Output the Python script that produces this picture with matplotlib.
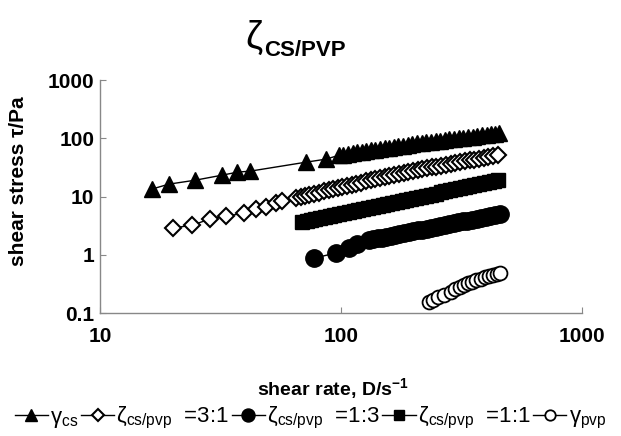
import matplotlib
matplotlib.use('Agg')
import matplotlib.pyplot as plt

plt.rcParams['font.family'] = ['Liberation Sans', 'DejaVu Sans']
plt.rcParams['mathtext.fontset'] = 'custom'
plt.rcParams['mathtext.rm'] = 'Liberation Sans'
plt.rcParams['mathtext.it'] = 'Liberation Sans:italic'
plt.rcParams['mathtext.bf'] = 'Liberation Sans:bold'

# gamma_cs (filled triangles)
x_cs = [16.4, 19.3, 24.9, 32.2, 37.2, 42.1, 71.7, 86.7,
        98, 102, 107, 112, 117, 122, 127, 133, 139, 145, 152, 159, 166, 173,
        181, 189, 198, 207, 216, 226, 236, 247, 258, 270, 282, 295, 308, 322,
        337, 352, 368, 385, 402, 420, 437, 452]
y_cs = [13.4, 16.3, 19.1, 23.3, 26.2, 27.3, 38.9, 43.8,
        51.0, 52.3, 53.9, 55.5, 57.0, 58.6, 60.1, 61.8, 63.6, 65.3, 67.2, 69.2,
        71.1, 72.9, 75.1, 77.1, 79.4, 81.7, 83.6, 85.5, 87.5, 89.5, 91.5, 93.7,
        95.8, 98.0, 100.2, 102.5, 104.9, 107.2, 109.7, 112.2, 114.7, 117.3,
        119.7, 121.8]

# zeta cs/pvp = 3:1 (open diamonds)
x_31 = [20.0, 24.2, 28.5, 33.5, 39.7, 44.5, 49.0, 53.9, 57.0,
        65, 68, 71, 74, 77, 81, 85, 89, 93, 97, 101, 106, 111, 116, 121, 127,
        133, 139, 145, 152, 159, 166, 174, 182, 190, 199, 208, 218, 228, 238,
        249, 261, 273, 285, 298, 312, 327, 342, 357, 374, 391, 409, 428, 448]
y_31 = [2.87, 3.23, 4.10, 4.61, 5.19, 6.08, 6.58, 7.71, 8.34,
        9.40, 9.83, 10.25, 10.68, 11.11, 11.67, 12.24, 12.81, 13.38, 13.94,
        14.51, 15.21, 15.92, 16.62, 17.33, 18.18, 19.02, 19.87, 20.71, 21.69,
        22.68, 23.68, 24.80, 25.74, 26.60, 27.55, 28.50, 29.53, 30.56, 31.58,
        32.69, 33.88, 35.06, 36.23, 37.47, 38.81, 40.22, 41.62, 43.02, 44.57,
        46.11, 47.72, 49.40, 51.14]

# zeta cs/pvp = 1:3 (filled circles)
x_13 = [77.3, 95.3, 108, 116.5,
        131, 136, 142, 148, 154, 161, 168, 175, 183, 191, 199, 208, 217, 227,
        237, 247, 258, 270, 282, 294, 307, 321, 335, 350, 366, 382, 399, 417,
        436, 456]
y_13 = [0.877, 1.07, 1.30, 1.53,
        1.79, 1.846, 1.912, 1.978, 2.044, 2.120, 2.195, 2.270, 2.355, 2.438,
        2.522, 2.615, 2.707, 2.809, 2.910, 3.011, 3.120, 3.238, 3.356, 3.473,
        3.598, 3.732, 3.865, 4.007, 4.157, 4.305, 4.461, 4.627, 4.799, 4.979]

# zeta cs/pvp = 1:1 (filled squares)
x_11 = [69, 72, 75, 78, 82, 86, 90, 94, 98, 103, 108, 113, 118, 124, 130, 136,
        142, 149, 156, 163, 171, 179, 187, 196, 205, 215, 225, 236, 247, 259,
        271, 284, 297, 311, 326, 341, 357, 374, 392, 410, 430, 450]
y_11 = [3.64, 3.78, 3.92, 4.06, 4.24, 4.42, 4.61, 4.79, 4.97, 5.19, 5.41, 5.63,
        5.85, 6.12, 6.38, 6.64, 6.89, 7.19, 7.49, 7.79, 8.13, 8.46, 8.80, 9.17,
        9.54, 9.95, 10.36, 10.81, 11.25, 11.74, 12.21, 12.73, 13.25, 13.80,
        14.38, 14.97, 15.59, 16.24, 16.93, 17.62, 18.38, 19.13]

# gamma_pvp (open circles)
x_pvp = [231, 242, 254, 268, 285, 298, 313, 325, 338, 351, 365, 381, 397, 413,
         429, 444, 458]
y_pvp = [0.155, 0.170, 0.188, 0.207, 0.229, 0.254, 0.279, 0.303, 0.327, 0.347,
         0.368, 0.391, 0.414, 0.432, 0.449, 0.467, 0.485]

labels = [r'$\mathrm{\gamma}_{\mathrm{cs}}$',
          r'$\mathrm{\zeta}_{\mathrm{cs/pvp}}$  =3:1',
          r'$\mathrm{\zeta}_{\mathrm{cs/pvp}}$  =1:3',
          r'$\mathrm{\zeta}_{\mathrm{cs/pvp}}$  =1:1',
          r'$\mathrm{\gamma}_{\mathrm{pvp}}$']

fig = plt.figure(figsize=(6.21, 4.36), dpi=100)
ax = fig.add_axes([0.161, 0.282, 0.776, 0.5345])

h1, = ax.plot(x_cs, y_cs, '-', color='black', lw=1, marker='^', ms=12,
              mfc='black', mec='black')
h2, = ax.plot(x_31, y_31, '-', color='black', lw=1, marker='D', ms=8,
              mfc='white', mec='black', mew=1.5)
h3, = ax.plot(x_13, y_13, '-', color='black', lw=1, marker='o', ms=12.5,
              mfc='black', mec='black')
h4, = ax.plot(x_11, y_11, '-', color='black', lw=1, marker='s', ms=10.5,
              mfc='black', mec='black')
h5, = ax.plot(x_pvp, y_pvp, '-', color='black', lw=1, marker='o', ms=10,
              mfc='white', mec='black', mew=1.3)

ax.set_xscale('log')
ax.set_yscale('log')
ax.set_xlim(10, 1000)
ax.set_ylim(0.1, 1000)
ax.set_xticks([10, 100, 1000])
ax.set_xticklabels(['10', '100', '1000'])
ax.set_yticks([0.1, 1, 10, 100, 1000])
ax.set_yticklabels(['0.1', '1', '10', '100', '1000'])
ax.minorticks_off()
for s in ['top', 'right']:
    ax.spines[s].set_visible(False)
for s in ['left', 'bottom']:
    ax.spines[s].set_color('#888888')
    ax.spines[s].set_linewidth(1)
ax.tick_params(axis='both', direction='in', length=4, color='#888888',
               labelsize=15)
ax.tick_params(axis='x', pad=10)
ax.tick_params(axis='y', pad=4)
for lab in ax.get_xticklabels() + ax.get_yticklabels():
    lab.set_fontweight('bold')

ax.set_xlabel(r'shear rate, D/s$^{\mathbf{-1}}$', fontsize=14, fontweight='bold')
ax.xaxis.set_label_coords(0.483, -0.27)
ax.set_ylabel('shear stress τ/Pa', fontsize=15, fontweight='bold')
ax.yaxis.set_label_coords(-0.149, 0.567)

fig.text(0.409, 0.913, 'ζ', fontsize=28, ha='center', va='center')
fig.text(0.425, 0.8716, 'CS/PVP', fontsize=16, fontweight='bold',
         ha='left', va='baseline')

fig.legend([h1, h2, h3, h4, h5], labels, loc='center',
           bbox_to_anchor=(0.5, 0.041), ncol=5, frameon=False, fontsize=16,
           handlelength=1.5, handletextpad=0.1, columnspacing=0.1,
           borderaxespad=0, borderpad=0, markerscale=0.75)

fig.savefig('out.png', dpi=100)
